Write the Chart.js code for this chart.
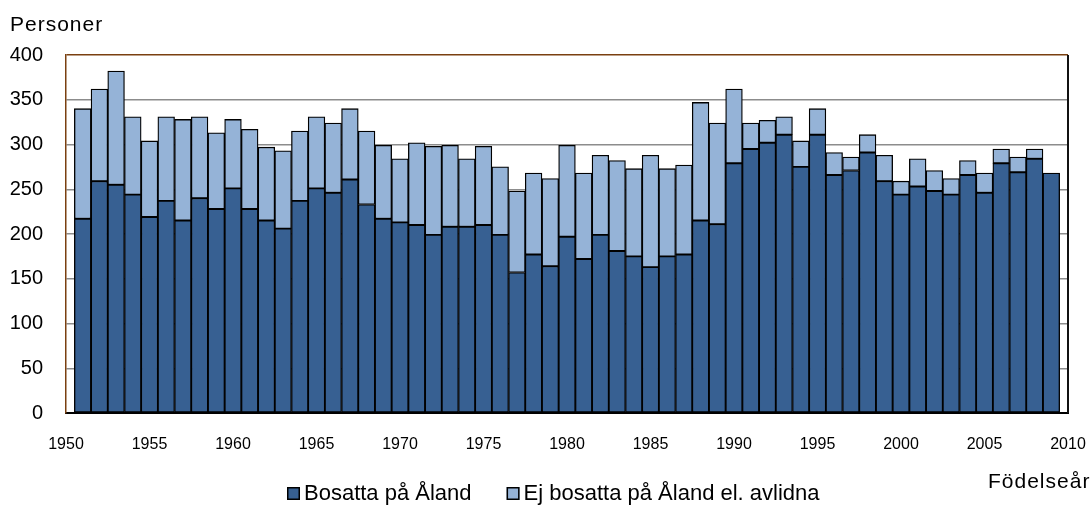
<!DOCTYPE html>
<html>
<head>
<meta charset="utf-8">
<script src="https://cdn.jsdelivr.net/npm/chart.js@4.4.0/dist/chart.umd.min.js"></script>
<style>html,body{margin:0;padding:0;background:#fff;}</style>
</head>
<body>
<canvas id="c" width="1090" height="506"></canvas>
<script>
// Categories (birth years); 1950 and 2010 are the axis ends with no bar
const categories = [1950,1951,1952,1953,1954,1955,1956,1957,1958,1959,
  1960,1961,1962,1963,1964,1965,1966,1967,1968,1969,
  1970,1971,1972,1973,1974,1975,1976,1977,1978,1979,
  1980,1981,1982,1983,1984,1985,1986,1987,1988,1989,
  1990,1991,1992,1993,1994,1995,1996,1997,1998,1999,
  2000,2001,2002,2003,2004,2005,2006,2007,2008,2009,2010];

// Bosatta på Åland
const bosatta = [null,217,259,255,244,219,237,215,240,228,
  251,228,215,206,237,251,246,261,233,217,
  213,210,199,208,208,210,199,157,177,164,
  197,172,199,181,175,163,175,177,215,211,
  279,295,302,311,275,311,266,271,291,259,
  244,253,248,244,266,246,279,269,284,268,null];

// Ej bosatta på Åland el. avlidna
const ejBosatta = [null,123,103,127,87,85,94,113,91,85,
  77,89,82,87,78,80,78,79,82,82,
  71,92,99,91,76,88,76,91,91,98,
  102,96,89,101,98,125,98,100,132,113,
  83,29,25,20,29,29,25,15,20,29,
  15,31,23,18,16,22,16,17,11,0,null];

const xTickLabels = ['1950','1955','1960','1965','1970','1975','1980','1985','1990','1995','2000','2005','2010'];
const yTickValues = [0,50,100,150,200,250,300,350,400];
const seriesNames = ['Bosatta på Åland','Ej bosatta på Åland el. avlidna'];
const yAxisTitle = 'Personer';
const xAxisTitle = 'Födelseår';

const FONT = '"Liberation Sans", Arial, Helvetica, sans-serif';
const BROWN = '#7a4010';

const textPlugin = {
  id: 'texts',
  beforeDatasetsDraw(chart) {
    const g = chart.ctx, a = chart.chartArea;
    g.save();
    g.strokeStyle = '#111';
    g.lineWidth = 2;
    g.beginPath();
    g.moveTo(a.right, a.top);
    g.lineTo(a.right, a.bottom);
    g.stroke();
    g.restore();
  },
  afterDraw(chart) {
    const g = chart.ctx;
    g.save();
    g.fillStyle = '#000';
    g.textBaseline = 'alphabetic';
    g.textAlign = 'left';
    g.font = '21px ' + FONT;
    try { g.letterSpacing = '1px'; } catch (e) {}
    g.fillText(yAxisTitle, 10, 31);
    g.fillText(xAxisTitle, 988, 488);
    try { g.letterSpacing = '0px'; } catch (e) {}
    // legend
    g.font = '22px ' + FONT;
    let x = 287;
    const box = 13, boxY = 487;
    chart.data.datasets.forEach((ds) => {
      g.fillStyle = ds.backgroundColor;
      g.fillRect(x, boxY, box, box);
      g.strokeStyle = '#000';
      g.lineWidth = 1.5;
      g.strokeRect(x + 0.75, boxY + 0.75, box - 1.5, box - 1.5);
      g.fillStyle = '#000';
      g.fillText(ds.label, x + box + 4, 500);
      x += box + 4 + g.measureText(ds.label).width + 35;
    });
    g.restore();
  }
};

new Chart(document.getElementById('c'), {
  type: 'bar',
  data: {
    labels: categories.map(String),
    datasets: [
      { label: seriesNames[0], data: bosatta, backgroundColor: '#376092', borderColor: '#000',
        borderWidth: 1.3, borderSkipped: false, barPercentage: 1, categoryPercentage: 1 },
      { label: seriesNames[1], data: ejBosatta, backgroundColor: '#95B3D7', borderColor: '#000',
        borderWidth: 1.3, borderSkipped: false, barPercentage: 1, categoryPercentage: 1 }
    ]
  },
  options: {
    responsive: false,
    animation: false,
    events: [],
    layout: { padding: { top: 55, right: 22, left: 0, bottom: 0 } },
    plugins: { legend: { display: false }, tooltip: { enabled: false }, title: { display: false } },
    scales: {
      x: {
        stacked: true,
        offset: false,
        grid: {
          offset: false,
          drawTicks: false,
          color: (c) => (c.index === categories.length - 1 ? '#000' : 'rgba(0,0,0,0)'),
          lineWidth: 2
        },
        border: { color: '#000', width: 2 },
        ticks: {
          autoSkip: false, maxRotation: 0, minRotation: 0, padding: 22, color: '#000',
          font: { family: FONT, size: 16 },
          callback: function (v, i) {
            const l = String(categories[i]);
            return xTickLabels.includes(l) ? l : null;
          }
        },
        afterFit(s) { s.height = 93; s.paddingLeft = 0; s.paddingRight = 0; }
      },
      y: {
        stacked: true,
        min: yTickValues[0],
        max: yTickValues[yTickValues.length - 1],
        ticks: { stepSize: 50, padding: 23, color: '#000', font: { family: FONT, size: 20 } },
        grid: {
          drawTicks: false,
          color: (c) => (c.tick.value === 400 ? BROWN : (c.tick.value === 0 ? 'rgba(0,0,0,0)' : '#8c8c8c')),
          lineWidth: 1.5
        },
        border: { color: BROWN, width: 1.5 },
        afterFit(s) { s.width = 66; }
      }
    }
  },
  plugins: [textPlugin]
});
</script>
</body>
</html>
